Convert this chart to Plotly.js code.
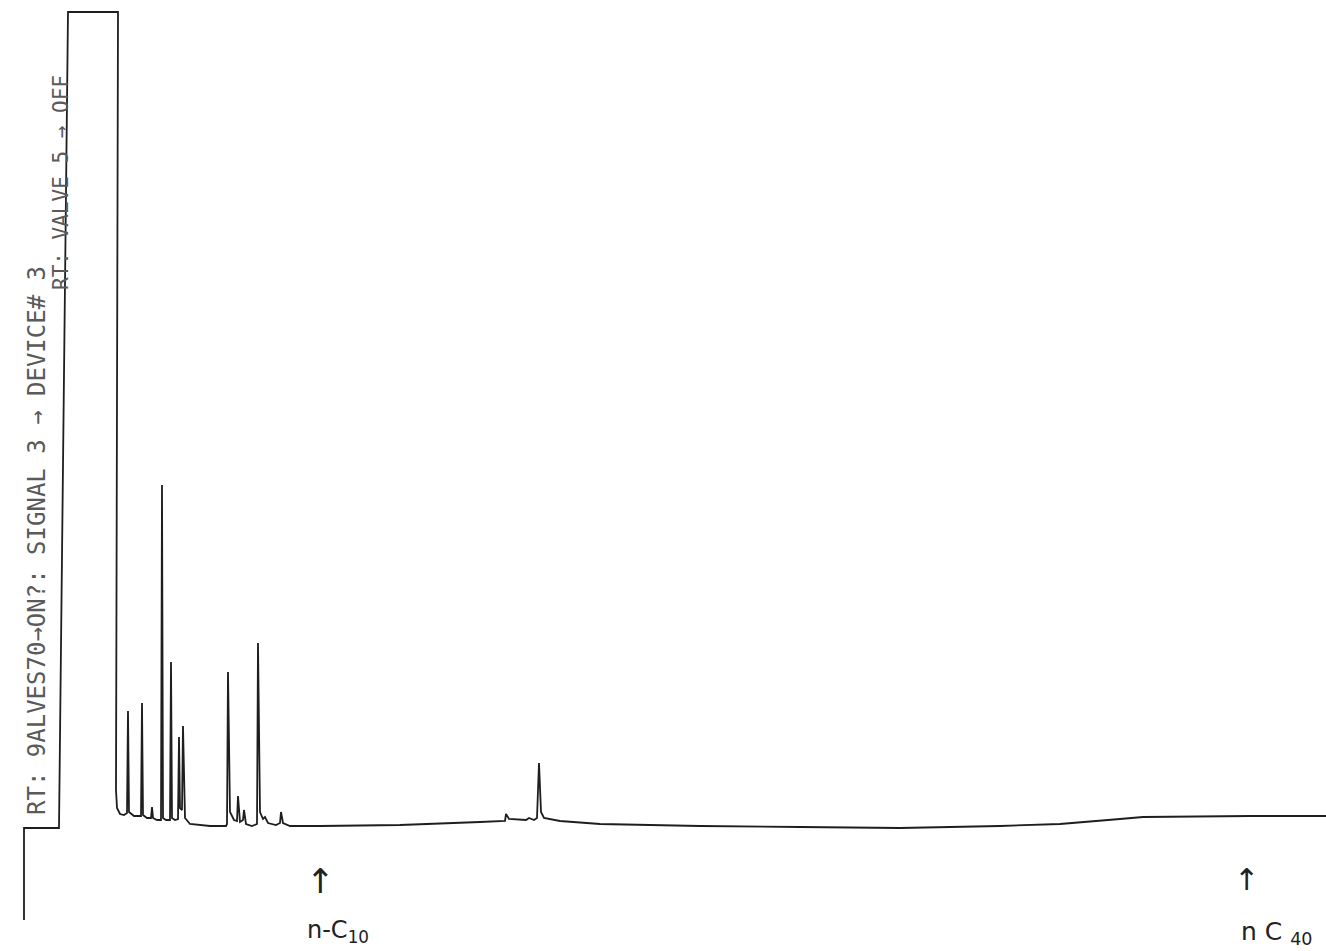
<!DOCTYPE html>
<html>
<head>
<meta charset="utf-8">
<script src="https://cdn.plot.ly/plotly-3.0.1.min.js"></script>
<style>html,body{margin:0;padding:0;background:#fff;}#chart{width:1326px;height:951px;}</style>
</head>
<body>
<div id="chart"></div>
<script>
// Retention position (chart units) and detector signal (chart units)
var retention = [24,24,59,68,118,116,117,120,124,
  127,128,129,134,141,142,143,147,151,152,153,157,161,162,163,166,170,171,172,175,
  178,179,180,182,183,185,190,210,226,227,228,230,234,237,238,240,243,244,246,252,
  257,258,260,263,265,268,276,280,281,283,290,320,400,480,505,506,509,526,529,534,
  537,539,541,544,560,600,700,800,900,1000,1060,1120,1143,1250,1326];
var signal = [31,123,123,939,939,161,143,137,136,
  138,240,139,135,135,248,136,133,133,144,133,131,131,466,133,131,131,289,133,131,
  132,214,143,141,225,133,127,125,125,127,279,139,131,130,155,129,131,141,127,125,
  127,308,139,132,134,128,126,128,139,128,125,125,126,129,130,137,132,131,133,131,
  133,188,139,133,130,127,125,124,123,125,127,132,134,135,135];

var printedLabels = ["RT: 9ALVES70→ON?: SIGNAL 3 → DEVICE# 3", "RT: VALVE 5 → OFF"];
var markerLabels = ["n-C<sub>10</sub>", "n C <sub>40</sub>"];
var markerPositions = [320, 1246];

var trace = {
  x: retention, y: signal, type: 'scatter', mode: 'lines',
  line: {color: '#1e1e1e', width: 1.8, shape: 'linear'},
  hoverinfo: 'skip'
};

var annotations = [
  {x: 37, y: 410, xref: 'x', yref: 'y', text: printedLabels[0], showarrow: false, textangle: -90,
   font: {family: 'DejaVu Sans Mono', size: 24, color: '#5a5a5a'}, xanchor: 'center', yanchor: 'middle'},
  {x: 61, y: 768, xref: 'x', yref: 'y', text: printedLabels[1], showarrow: false, textangle: -90,
   font: {family: 'DejaVu Sans Mono', size: 21, color: '#5a5a5a'}, xanchor: 'center', yanchor: 'middle'},
  {x: markerPositions[0], y: 70, xref: 'x', yref: 'y', text: '↑', showarrow: false,
   font: {family: 'DejaVu Sans', size: 34, color: '#222'}, xanchor: 'center', yanchor: 'middle'},
  {x: markerPositions[1], y: 72, xref: 'x', yref: 'y', text: '↑', showarrow: false,
   font: {family: 'DejaVu Sans', size: 30, color: '#222'}, xanchor: 'center', yanchor: 'middle'},
  {x: markerPositions[0] + 18, y: 20, xref: 'x', yref: 'y', text: markerLabels[0], showarrow: false,
   font: {family: 'DejaVu Sans', size: 24, color: '#222'}, xanchor: 'center', yanchor: 'middle'},
  {x: markerPositions[1] + 30, y: 18, xref: 'x', yref: 'y', text: markerLabels[1], showarrow: false,
   font: {family: 'DejaVu Sans', size: 25, color: '#222'}, xanchor: 'center', yanchor: 'middle'}
];

var layout = {
  width: 1326, height: 951,
  margin: {l: 0, r: 0, t: 0, b: 0},
  paper_bgcolor: '#fff', plot_bgcolor: '#fff',
  showlegend: false,
  xaxis: {range: [0, 1326], visible: false, fixedrange: true},
  yaxis: {range: [0, 951], visible: false, fixedrange: true},
  annotations: annotations
};

Plotly.newPlot('chart', [trace], layout, {displayModeBar: false, staticPlot: true});
</script>
</body>
</html>
